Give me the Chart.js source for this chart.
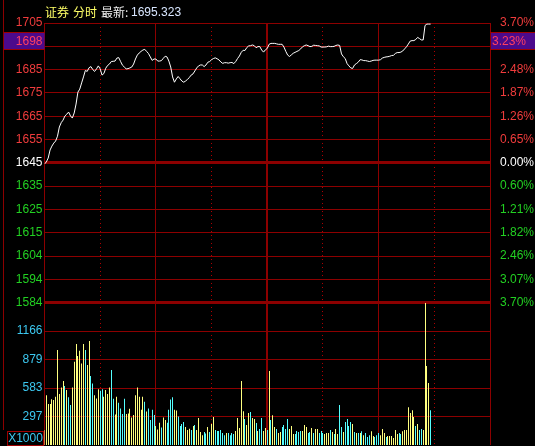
<!DOCTYPE html>
<html>
<head>
<meta charset="utf-8">
<script src="https://cdn.jsdelivr.net/npm/chart.js@4.4.1/dist/chart.umd.min.js"></script>
<style>
  html, body { margin: 0; padding: 0; background: #000; }
  #wrap { position: relative; width: 535px; height: 446px; overflow: hidden; }
  #title span { position: absolute; top: 5px; font-size: 12px; line-height: 14px; white-space: pre; }
  .cjk { font-family: "Noto Sans CJK SC", sans-serif; }
  .num { font-family: "Liberation Sans", sans-serif; }
</style>
</head>
<body>
<div id="wrap">
  <canvas id="c" width="535" height="446"></canvas>
  <div id="title">
    <span class="cjk" style="left:45px;color:#ffff66">证券</span>
    <span class="cjk" style="left:73px;color:#ffff66">分时</span>
    <span class="cjk" style="left:101px;color:#f0f0f0">最新:</span>
    <span class="num" style="left:131px;color:#d8e6ff">1695.323</span>
  </div>
</div>
<script>
// 昨收与坐标范围
const preClose = 1645;
const priceMax = 1705.87;
const priceMin = 1584.13;
const pctMax = 3.70;
const volMax = 1458;

// 刻度文字
const leftTicks = ['1705', '', '1685', '1675', '1665', '1655', '1645', '1635', '1625', '1615', '1604', '1594', '1584'];
const rightTicks = ['3.70%', '', '2.48%', '1.87%', '1.26%', '0.65%', '0.00%', '0.60%', '1.21%', '1.82%', '2.46%', '3.07%', '3.70%'];
const volTicks = ['297', '583', '879', '1166'];
const timeTicks = [0, 30, 60, 90, 120, 150, 180, 210, 240];

// 最新价标记
const markPrice = 1698.1;
const markLabels = ['1698', '3.23%'];

// 分时价格 (每分钟)
const price = [
  1644.5, 1645.4, 1647.1, 1650.6, 1652.3, 1653.6, 1654.5, 1656.6, 1660.6, 1662.5,
  1663.6, 1665.4, 1666.2, 1667.1, 1665.4, 1664.5, 1666.7, 1670.6, 1675.8, 1677.1,
  1679.8, 1682.4, 1685.2, 1684.8, 1686.4, 1686.9, 1685.6, 1684.8, 1685.9, 1687.2,
  1685.9, 1683.2, 1683.9, 1686.2, 1687.4, 1688.0, 1689.1, 1689.2, 1689.3, 1690.6,
  1690.8, 1689.1, 1687.5, 1686.7, 1685.9, 1686.0, 1686.3, 1686.7, 1688.0, 1690.2,
  1691.9, 1692.8, 1693.5, 1694.1, 1694.4, 1693.5, 1692.6, 1691.1, 1689.6, 1690.2,
  1690.2, 1689.3, 1689.3, 1689.5, 1690.5, 1691.4, 1691.1, 1689.3, 1686.7, 1682.4,
  1680.1, 1681.5, 1682.6, 1681.6, 1680.6, 1680.1, 1680.6, 1681.3, 1682.1, 1683.2,
  1683.7, 1685.0, 1686.3, 1687.2, 1687.6, 1687.6, 1686.9, 1687.6, 1688.8, 1689.1,
  1689.9, 1690.4, 1690.7, 1690.3, 1689.8, 1688.9, 1688.3, 1688.6, 1688.6, 1688.4,
  1688.6, 1688.7, 1688.2, 1689.1, 1690.4, 1691.5, 1693.1, 1694.0, 1693.9, 1695.2,
  1695.9, 1696.0, 1696.3, 1696.0, 1695.1, 1695.6, 1695.6, 1694.1, 1693.2, 1694.2,
  1694.8, 1696.6, 1697.0, 1697.0, 1697.0, 1696.8, 1696.6, 1696.6, 1696.6, 1695.4,
  1693.5, 1691.9, 1691.3, 1692.0, 1692.7, 1693.1, 1693.5, 1693.9, 1694.6, 1695.5,
  1696.0, 1696.3, 1696.0, 1695.6, 1695.7, 1696.2, 1696.1, 1696.0, 1695.9, 1695.4,
  1695.4, 1695.4, 1695.5, 1695.8, 1695.6, 1695.6, 1695.7, 1696.1, 1696.3, 1696.1,
  1692.4, 1691.2, 1690.4, 1688.2, 1687.2, 1686.3, 1686.1, 1687.6, 1688.2, 1688.8,
  1689.9, 1689.8, 1689.5, 1689.5, 1689.3, 1689.1, 1689.3, 1689.6, 1689.7, 1689.7,
  1689.7, 1689.9, 1690.6, 1690.9, 1691.1, 1691.2, 1691.4, 1691.7, 1691.8, 1692.6,
  1693.0, 1693.0, 1693.2, 1693.7, 1694.6, 1695.5, 1696.7, 1698.0, 1698.2, 1698.2,
  1698.7, 1699.6, 1699.1, 1698.5, 1698.5, 1704.8, 1705.4, 1705.4, 1705.4
];

// 成交量 (X1000)
const volume = [
  153, 511, 419, 419, 470, 460, 494, 973, 522, 590, 655, 604, 563, 488, 409, 590, 853, 1034, 911, 966,
  836, 1034, 973, 819, 1065, 706, 631, 511, 477, 570, 556, 570, 494, 563, 522, 590, 768, 474, 313, 494,
  433, 375, 317, 474, 317, 323, 371, 283, 307, 511, 590, 494, 361, 494, 443, 344, 375, 255, 361, 307,
  194, 160, 228, 180, 283, 255, 228, 361, 467, 488, 361, 354, 293,
  194, 214, 235, 184, 153, 167, 153, 194, 204, 153, 276, 133, 101, 133, 119, 184, 133, 214, 286, 153,
  143, 143, 153, 122, 101, 122, 122, 101, 122, 112, 143, 276, 174, 655, 347, 266, 204, 327, 337, 276,
  266, 225, 143, 163, 276, 143, 174, 153, 757, 255, 306, 184, 163, 122, 133, 184, 204, 163, 266, 163,
  194, 112, 112, 143, 133, 143, 143, 204, 184, 122, 133, 174, 122, 163, 163, 122, 143, 122, 112, 122,
  122, 153, 133, 112, 163, 112, 409, 184, 133, 235, 266, 194, 235, 214, 133, 122,
  122, 122, 142, 101, 122, 81, 101, 142, 91, 81, 101, 122, 101, 163, 122, 81, 91, 91, 91, 71,
  153, 112, 122, 112, 142, 153, 153, 388, 327, 357, 286, 194, 214, 153, 163, 153, 1455, 809, 635, 357
];

// 每分钟涨(1)跌(0)
const volUp = [
  1, 1, 1, 1, 1, 1, 1, 1, 1, 1, 1, 0, 1, 0, 0, 1, 1, 1, 1, 1,
  1, 1, 0, 1, 1, 0, 0, 1, 1, 1, 0, 0, 1, 1, 1, 1, 0, 0, 1, 1,
  0, 0, 0, 0, 1, 1, 1, 1, 1, 1, 1, 1, 1, 1, 0, 1, 0, 0, 0, 0,
  1, 1, 1, 0, 1, 1, 0, 0, 0, 0, 1, 1, 0,
  0, 0, 0, 1, 1, 1, 0, 1, 0, 1, 1, 1, 1, 0, 0, 1, 0, 1, 1, 0,
  0, 0, 0, 0, 0, 1, 0, 0, 0, 0, 1, 1, 1, 1, 1, 0, 1, 1, 0, 1,
  1, 0, 1, 0, 0, 1, 1, 0, 1, 0, 1, 1, 0, 1, 1, 0, 0, 0, 0, 1,
  1, 1, 0, 0, 0, 0, 1, 1, 1, 0, 0, 1, 0, 1, 1, 0, 0, 0, 1, 1,
  1, 0, 1, 0, 1, 1, 0, 0, 1, 0, 0, 0, 0, 1, 0, 1,
  0, 1, 0, 1, 0, 0, 0, 1, 1, 0, 0, 0, 1, 1, 1, 0, 1, 1, 1, 1,
  1, 1, 0, 0, 1, 1, 1, 1, 1, 1, 1, 0, 1, 0, 0, 1, 1, 1, 1, 0
];

const gridRed = '#8c0000';
const font = { family: 'Liberation Sans', size: 12 };
const tickColor = i => i < 6 ? '#f03c3c' : (i === 6 ? '#ffffff' : '#22d022');

// 固定纵轴宽度，去掉刻度文字带来的额外留白
const fixWidth = w => s => {
  s.width = w;
  s.paddingTop = 0;
  s.paddingBottom = 0;
};

// 量柱对齐到整像素，避免1px柱子发虚
const snapBars = {
  id: 'snapBars',
  beforeDatasetDraw(chart, args) {
    const meta = args.meta;
    if (meta.type !== 'bar') return;
    meta.data.forEach(el => { el.x = Math.floor(el.x) + 0.5; });
  }
};

// 边框、最新价标记、X1000
const decor = {
  id: 'decor',
  beforeDraw(chart) {
    const ctx = chart.ctx;
    ctx.save();
    ctx.fillStyle = '#000';
    ctx.fillRect(0, 0, chart.width, chart.height);
    ctx.strokeStyle = gridRed;
    ctx.lineWidth = 1;
    ctx.beginPath();
    ctx.moveTo(3.5, 0); ctx.lineTo(3.5, 430);
    ctx.stroke();
    ctx.restore();
  },
  afterDraw(chart) {
    const ctx = chart.ctx;
    const area = chart.chartArea;
    const y = Math.round(chart.scales.yPrice.getPixelForValue(markPrice));
    ctx.save();
    ctx.fillStyle = '#4c0a8c';
    ctx.fillRect(4, y - 8, area.left - 4, 16);
    ctx.fillRect(area.right + 1, y - 8, chart.width - area.right - 1, 16);
    ctx.strokeStyle = '#a00000';
    ctx.beginPath();
    ctx.moveTo(4, y - 8.5); ctx.lineTo(area.left, y - 8.5);
    ctx.moveTo(4, y + 8.5); ctx.lineTo(area.left, y + 8.5);
    ctx.moveTo(area.right, y - 8.5); ctx.lineTo(chart.width, y - 8.5);
    ctx.moveTo(area.right, y + 8.5); ctx.lineTo(chart.width, y + 8.5);
    ctx.stroke();
    ctx.font = '12px "Liberation Sans"';
    ctx.textBaseline = 'middle';
    ctx.fillStyle = '#ff4060';
    ctx.textAlign = 'right';
    ctx.fillText(markLabels[0], area.left - 2, y + 1);
    ctx.textAlign = 'left';
    ctx.fillText(markLabels[1], area.right + 2, y + 1);
    // X1000
    ctx.strokeStyle = '#a00000';
    ctx.strokeRect(7.5, 431.5, 36, 14);
    ctx.fillStyle = '#3cc8f0';
    ctx.textAlign = 'center';
    ctx.fillText('X1000', 25.5, 439);
    ctx.restore();
  }
};

new Chart(document.getElementById('c'), {
  data: {
    datasets: [
      {
        type: 'line',
        data: price.map((v, i) => ({ x: i, y: v })),
        xAxisID: 'x',
        yAxisID: 'yPrice',
        borderColor: '#ffffff',
        borderWidth: 1,
        pointRadius: 0,
        tension: 0
      },
      {
        type: 'bar',
        data: volume.map((v, i) => ({ x: i, y: v })),
        xAxisID: 'x',
        yAxisID: 'yVol',
        backgroundColor: c => volUp[c.dataIndex] ? '#ffff80' : '#55ffff',
        barThickness: 1,
        inflateAmount: 0
      }
    ]
  },
  options: {
    responsive: false,
    animation: false,
    devicePixelRatio: 1,
    layout: { padding: { top: 23, bottom: 1, left: 0, right: 0 } },
    plugins: { legend: { display: false }, tooltip: { enabled: false } },
    scales: {
      x: {
        type: 'linear',
        min: 0,
        max: 240,
        offset: false,
        afterBuildTicks: s => { s.ticks = timeTicks.map(v => ({ value: v })); },
        afterFit: s => { s.height = 0; s.paddingLeft = 0; s.paddingRight = 0; },
        ticks: { display: false },
        grid: {
          offset: false,
          color: c => c.index % 2 ? '#b00000' : gridRed,
          lineWidth: c => c.index === 4 ? 2 : 1,
          drawTicks: false
        },
        border: { display: false, dash: c => c.index % 2 ? [1, 3] : [] }
      },
      yVol: {
        type: 'linear',
        position: 'left',
        stack: 'L',
        stackWeight: 142.3,
        min: 0,
        max: volMax,
        afterBuildTicks: s => { s.ticks = volTicks.map((t, k) => ({ value: (k + 1) * volMax / 5 })); },
        afterFit: fixWidth(44.5),
        ticks: { callback: (v, i) => volTicks[i], color: '#3cc8f0', font, padding: 2, autoSkip: false },
        grid: { color: gridRed, drawTicks: false },
        border: { display: false }
      },
      yPrice: {
        type: 'linear',
        position: 'left',
        stack: 'L',
        stackWeight: 279.7,
        min: priceMin,
        max: priceMax,
        afterBuildTicks: s => { s.ticks = leftTicks.map((t, k) => ({ value: priceMax - k * (priceMax - priceMin) / 12 })); },
        afterFit: fixWidth(44.5),
        ticks: { callback: (v, i) => leftTicks[i], color: c => tickColor(c.index), font, padding: 2, autoSkip: false },
        grid: { color: gridRed, lineWidth: c => (c.index === 6 || c.index === 12) ? 3 : 1, drawTicks: false },
        border: { display: false }
      },
      yPct: {
        type: 'linear',
        position: 'right',
        stack: 'R',
        stackWeight: 279.7,
        min: -pctMax,
        max: pctMax,
        afterBuildTicks: s => { s.ticks = rightTicks.map((t, k) => ({ value: pctMax - k * 2 * pctMax / 12 })); },
        afterFit: fixWidth(45),
        ticks: { callback: (v, i) => rightTicks[i], color: c => tickColor(c.index), font, padding: 2, autoSkip: false },
        grid: { display: false },
        border: { display: false }
      },
      yVolR: {
        type: 'linear',
        position: 'right',
        stack: 'R',
        stackWeight: 142.3,
        min: 0,
        max: volMax,
        afterFit: fixWidth(45),
        ticks: { display: false },
        grid: { display: false },
        border: { display: false }
      }
    }
  },
  plugins: [snapBars, decor]
});
</script>
</body>
</html>
